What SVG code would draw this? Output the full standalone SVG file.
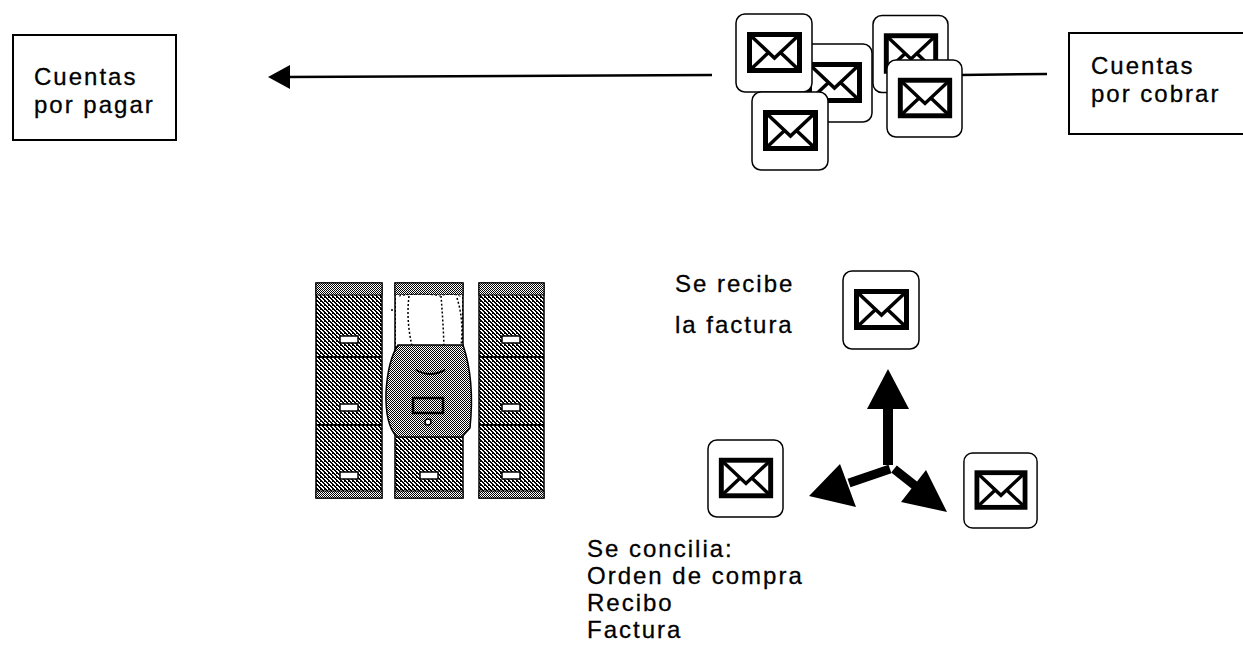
<svg xmlns="http://www.w3.org/2000/svg" xmlns:xlink="http://www.w3.org/1999/xlink" width="1243" height="660" viewBox="0 0 1243 660">
  <style>
    .lbl { font-family: "Liberation Sans", Arial, sans-serif; font-size: 24px; fill: #000; letter-spacing: 2px; stroke: #000; stroke-width: 0.3; }
    .box { fill: #fff; stroke: #000; stroke-width: 2; }
    .conn { stroke: #000; stroke-width: 2.5; fill: none; }
    .tile { fill: #fff; stroke: #000; stroke-width: 1.5; }
    .env { fill: none; stroke: #000; stroke-width: 5; }
    .flap { fill: none; stroke: #000; stroke-width: 3.5; }
    .cab { fill: url(#hatch); stroke: #000; stroke-width: 1.5; }
    .band { fill: url(#dots); stroke: #000; stroke-width: 1; }
    .handle { fill: #fff; stroke: #000; stroke-width: 1.5; }
    .solid { fill: #000; }
    .fat { stroke: #000; stroke-width: 9; fill: none; }
  </style>
  <defs>
    <!-- diagonal dither used for the cabinet bodies -->
    <pattern id="hatch" width="4" height="4" patternUnits="userSpaceOnUse">
      <rect width="4" height="4" fill="#fff"/>
      <rect x="0" y="0" width="2" height="1" fill="#000"/>
      <rect x="1" y="1" width="2" height="1" fill="#000"/>
      <rect x="2" y="2" width="2" height="1" fill="#000"/>
      <rect x="3" y="3" width="1" height="1" fill="#000"/>
      <rect x="0" y="3" width="1" height="1" fill="#000"/>
      <rect x="0" y="1" width="1" height="1" fill="#000"/>
      <rect x="2" y="0" width="1" height="1" fill="#000" opacity="0"/>
    </pattern>
    <!-- checker dither for bands and the open drawer -->
    <pattern id="dots" width="2" height="2" patternUnits="userSpaceOnUse">
      <rect width="2" height="2" fill="#fff"/>
      <rect x="0" y="0" width="1" height="1" fill="#000"/>
      <rect x="1" y="1" width="1" height="1" fill="#000"/>
    </pattern>
    <!-- envelope tile -->
    <symbol id="mail" viewBox="0 0 78 80">
      <rect class="tile" x="1" y="1" width="76" height="78" rx="9"/>
      <rect class="env" x="14.5" y="21.5" width="50" height="36"/>
      <polyline class="flap" points="14,21 39.5,45 65,21"/>
      <line class="flap" x1="14" y1="58" x2="33" y2="40"/>
      <line class="flap" x1="65" y1="58" x2="46" y2="40"/>
    </symbol>
  </defs>

  <rect width="1243" height="660" fill="#fff"/>

  <!-- connectors -->
  <g id="connectors">
    <line class="conn" x1="712" y1="75" x2="285" y2="77"/>
    <polygon class="solid" points="268,77 290,65 290,89"/>
    <line class="conn" x1="960" y1="75" x2="1047" y2="74"/>
    <!-- three-way split under the received invoice -->
    <rect class="solid" x="883" y="405" width="10" height="60"/>
    <polygon class="solid" points="888,369 867,409 909,409"/>
    <polyline class="fat" points="890,469 849,483"/>
    <polygon class="solid" points="809,496 840,464 856,507"/>
    <polyline class="fat" points="894,469 918,488"/>
    <polygon class="solid" points="947,512 926,470 901,502"/>
  </g>

  <!-- payables box -->
  <g id="node-pagar">
    <rect class="box" x="13" y="35" width="163" height="105"/>
    <text class="lbl" x="34" y="85">Cuentas</text>
    <text class="lbl" x="34" y="113">por pagar</text>
  </g>

  <!-- receivables box -->
  <g id="node-cobrar">
    <rect class="box" x="1069" y="33" width="200" height="101"/>
    <text class="lbl" x="1091" y="74">Cuentas</text>
    <text class="lbl" x="1091" y="102">por cobrar</text>
  </g>

  <!-- stack of invoices in transit -->
  <g id="node-stack">
    <use href="#mail" x="795" y="43" width="78" height="80"/>
    <use href="#mail" x="735" y="13" width="78" height="80"/>
    <use href="#mail" x="751" y="91" width="78" height="80"/>
    <use href="#mail" x="872" y="14" width="77" height="80"/>
    <use href="#mail" x="886" y="59" width="77" height="79"/>
  </g>

  <!-- filing cabinets -->
  <g id="node-cabinets">
    <!-- left cabinet -->
    <rect class="cab" x="316" y="283" width="66" height="215"/>
    <rect class="band" x="316" y="283" width="66" height="12"/>
    <line x1="316" y1="357" x2="382" y2="357" stroke="#000" stroke-width="2"/>
    <line x1="316" y1="425" x2="382" y2="425" stroke="#000" stroke-width="2"/>
    <rect class="band" x="316" y="491" width="66" height="7"/>
    <rect class="handle" x="340" y="336" width="18" height="7"/>
    <rect class="handle" x="340" y="404" width="18" height="7"/>
    <rect class="handle" x="340" y="472" width="18" height="7"/>

    <!-- right cabinet -->
    <rect class="cab" x="479" y="283" width="65" height="215"/>
    <rect class="band" x="479" y="283" width="65" height="12"/>
    <line x1="479" y1="357" x2="544" y2="357" stroke="#000" stroke-width="2"/>
    <line x1="479" y1="425" x2="544" y2="425" stroke="#000" stroke-width="2"/>
    <rect class="band" x="479" y="491" width="65" height="7"/>
    <rect class="handle" x="502" y="336" width="18" height="7"/>
    <rect class="handle" x="502" y="404" width="18" height="7"/>
    <rect class="handle" x="502" y="472" width="18" height="7"/>

    <!-- middle cabinet with open drawer -->
    <rect class="cab" x="395" y="283" width="68" height="215"/>
    <rect class="band" x="395" y="283" width="68" height="12"/>
    <rect x="396" y="295" width="66" height="52" fill="#fff"/>
    <path d="M409,296 Q406,320 412,346 M441,296 Q443,320 444,346 M457,298 Q464,320 461,346" fill="none" stroke="#000" stroke-width="1.5" stroke-dasharray="2 2"/>
    <path d="M399,296 Q420,292 440,296 Q452,292 462,297" fill="none" stroke="#000" stroke-width="1" stroke-dasharray="2 2"/>
    <circle cx="392" cy="310" r="1" fill="#000"/>
    <path d="M398,345 L463,345 Q475,380 470,428 L462,437 L397,437 Q385,425 386,392 Q388,360 398,345 Z" fill="url(#dots)" stroke="#000" stroke-width="1.5"/>
    <path d="M416,370 Q430,378 445,370" fill="none" stroke="#000" stroke-width="2"/>
    <rect x="413" y="398" width="30" height="15" fill="url(#dots)" stroke="#000" stroke-width="2.5"/>
    <circle cx="428" cy="422" r="3" fill="#fff" stroke="#000" stroke-width="1.5"/>
    <rect class="band" x="395" y="491" width="68" height="7"/>
    <rect class="handle" x="420" y="472" width="18" height="7"/>
  </g>

  <!-- received invoice -->
  <g id="node-recibe">
    <use href="#mail" x="842" y="270" width="78" height="80"/>
    <text class="lbl" x="675" y="292">Se recibe</text>
    <text class="lbl" x="675" y="333">la factura</text>
  </g>

  <!-- documents being matched -->
  <g id="node-orden">
    <use href="#mail" x="707" y="438" width="77" height="81"/>
  </g>
  <g id="node-recibo">
    <use href="#mail" x="962" y="452" width="77" height="77"/>
  </g>

  <g id="node-concilia">
    <text class="lbl" x="587" y="557">Se concilia:</text>
    <text class="lbl" x="587" y="584">Orden de compra</text>
    <text class="lbl" x="587" y="611">Recibo</text>
    <text class="lbl" x="587" y="638">Factura</text>
  </g>
</svg>
